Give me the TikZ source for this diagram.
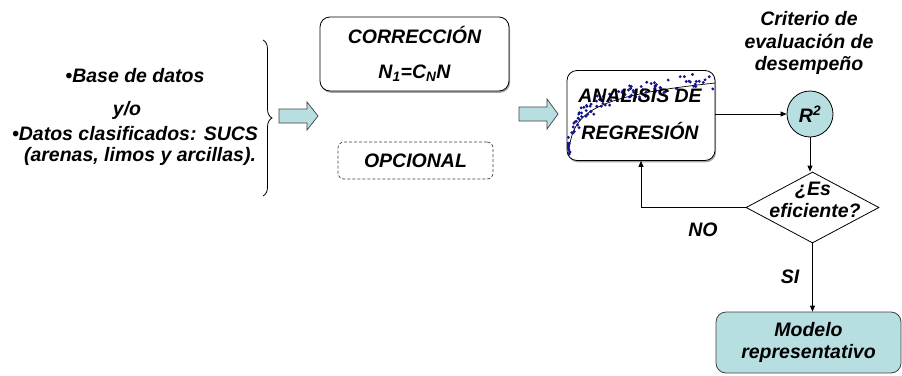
\documentclass[tikz,border=0pt]{standalone}
\usepackage{fontspec}
\setmainfont{Liberation Sans}
\usetikzlibrary{arrows.meta,shapes.geometric,decorations.pathreplacing,shadows}
\definecolor{tealfill}{HTML}{B7DFE1}
\definecolor{edgegray}{HTML}{404040}
\definecolor{dotblue}{HTML}{14148C}
\begin{document}
\begin{tikzpicture}[x=1pt,y=-1pt,
  txt/.style={font=\fontsize{19.5}{22.5}\selectfont\bfseries\itshape, inner sep=0pt, align=center},
  box/.style={draw=black, line width=0.8pt, rounded corners=10pt, inner sep=0pt},
  shad/.style={drop shadow={shadow xshift=1pt, shadow yshift=-1.8pt, fill=gray!70, opacity=1}},
  blockarrow/.style={draw=edgegray, line width=0.7pt, fill=tealfill},
  conn/.style={line width=0.8pt, -{Triangle[length=6pt,width=5pt]}},
  plain/.style={line width=0.8pt}
]
\useasboundingbox (0,0) rectangle (902,375);

% left texts
\node[txt, anchor=base] (t1) at (135,82) {•Base de datos};
\node[txt, anchor=base] (t2) at (127,115) {y/o};
\node[txt, anchor=base] (t3) at (135,140) {•Datos clasificados: SUCS};
\node[txt, anchor=base] (t4) at (140,161) {(arenas, limos y arcillas).};

% brace
\coordinate (bt) at (263,40);
\coordinate (bb) at (263,196);
\draw[line width=0.8pt, decorate, decoration={brace, amplitude=9pt}] (bt) -- (bb);

% block arrow 1
\draw[blockarrow] (279,109) -- (307,109) -- (307,102) -- (318,116) -- (307,130) -- (307,123) -- (279,123) -- cycle;

% correction boxes
\node[box, shad, fill=white, minimum width=189pt, minimum height=74pt, txt] (cor) at (414.5,54)
  {CORRECCIÓN\\[12pt]N\textsubscript{1}=C\textsubscript{N}N};
\node[draw=edgegray, line width=0.7pt, dash pattern=on 3pt off 2pt, rounded corners=6pt,
  minimum width=155pt, minimum height=37pt, txt] (opc) at (415.5,160.5) {OPCIONAL};

% block arrow 2
\draw[blockarrow] (519,107) -- (547,107) -- (547,99) -- (558,114) -- (547,129) -- (547,121) -- (519,121) -- cycle;

% analysis box
\node[box, shad, fill=white, minimum width=148pt, minimum height=90pt] (ana) at (641,115.5) {};
\begin{scope}
  \clip[rounded corners=10pt] (567,70.5) rectangle (715,160.5);
  \draw[line width=0.7pt] plot[domain=0:147, samples=120] ({568+\x},{160-15.4*ln(1+\x)});
  \pgfmathsetseed{11}
  \foreach \i in {1,...,110} {
    \pgfmathsetmacro{\tt}{147*pow(rnd,1.7)}
    \pgfmathsetmacro{\dy}{(rnd-0.65)*17}
    \pgfmathsetmacro{\dx}{(rnd-0.5)*4}
    \fill[dotblue] ({568+\tt+\dx},{160-15.4*ln(1+\tt)+\dy}) circle (1.6pt);
  }
\end{scope}
\node[txt, anchor=base] (an1) at (640,102) {ANALISIS DE};
\node[txt, anchor=base] (an2) at (640,139) {REGRESIÓN};

% criterion
\node[txt, anchor=base] (c1) at (809,25) {Criterio de};
\node[txt, anchor=base] (c2) at (809,48) {evaluación de};
\node[txt, anchor=base] (c3) at (809,70) {desempeño};

% R2 circle
\node[circle, draw=black, line width=0.8pt, fill=tealfill, minimum size=46pt, inner sep=0pt, txt] (r2) at (810,114) {R\textsuperscript{2}};

% diamond
\node[diamond, draw=black, line width=0.8pt, fill=white, minimum width=133pt, minimum height=71pt, inner sep=0pt] (dia) at (812.5,207.5) {};
\node[txt, anchor=base] (d1) at (813,195) {¿Es};
\node[txt, anchor=base] (d2) at (815,217) {eficiente?};

% model box
\node[box, fill=tealfill, draw=edgegray, minimum width=185pt, minimum height=61pt, txt] (mod) at (808.5,342.5)
  {Modelo\\representativo};

% connectors
\draw[conn] (ana.east |- r2.west) -- (r2.west);
\draw[conn] (r2.south) -- (r2.south |- dia.north);
\draw[conn] (dia.west) -| (ana.south);
\draw[conn] (dia.south) -- (dia.south |- mod.north);

% labels
\node[txt] (no) at (703,230) {NO};
\node[txt] (si) at (790,277) {SI};
\end{tikzpicture}
\end{document}
